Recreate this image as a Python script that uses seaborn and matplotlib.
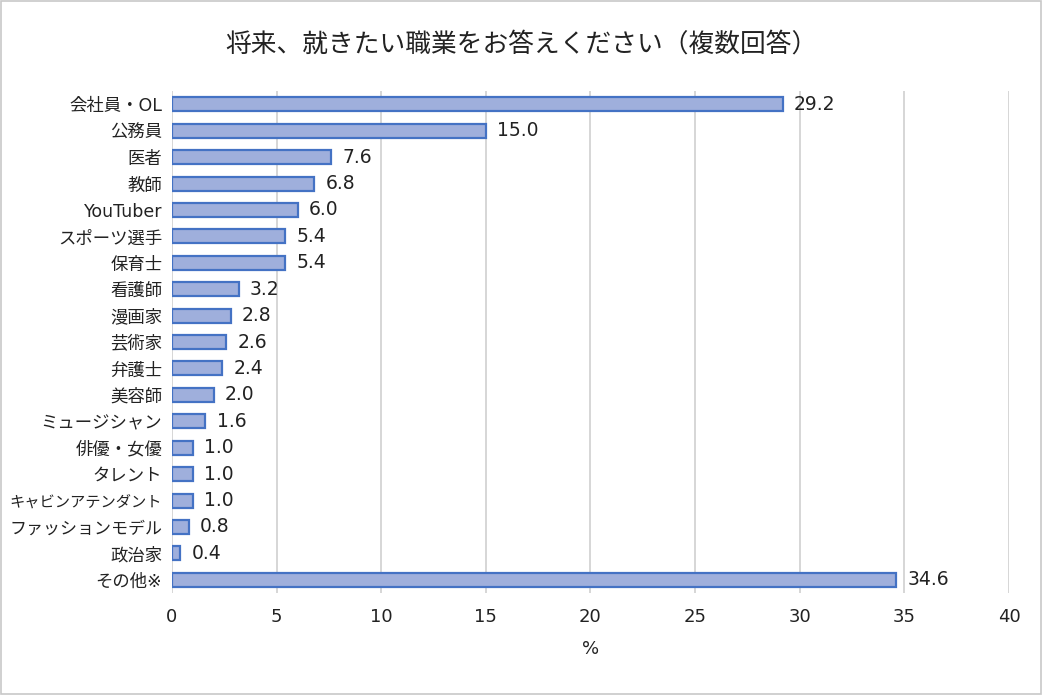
import matplotlib.pyplot as plt
import pandas as pd
import seaborn as sns
from matplotlib.patches import Rectangle

# Chart data
jobs = [
    "会社員・OL", "公務員", "医者", "教師", "YouTuber", "スポーツ選手", "保育士",
    "看護師", "漫画家", "芸術家", "弁護士", "美容師", "ミュージシャン",
    "俳優・女優", "タレント", "キャビンアテンダント", "ファッションモデル", "政治家", "その他※",
]
percent = [29.2, 15.0, 7.6, 6.8, 6.0, 5.4, 5.4, 3.2, 2.8, 2.6, 2.4, 2.0, 1.6,
           1.0, 1.0, 1.0, 0.8, 0.4, 34.6]
x_ticks = [0, 5, 10, 15, 20, 25, 30, 35, 40]
title = "将来、就きたい職業をお答えください（複数回答）"

sns.set_theme(style="white")
plt.rcParams["font.family"] = ["DejaVu Sans", "Noto Sans CJK JP"]
txt = "#222222"

df = pd.DataFrame({"job": jobs, "pct": percent})

fig = plt.figure(figsize=(10.43, 6.95), dpi=100)
ax = fig.add_axes([0.1649, 0.1468, 0.8025, 0.7222])

sns.barplot(data=df, x="pct", y="job", orient="h", color="#9FAFDC",
            edgecolor="#4472C4", linewidth=1.6, width=0.53, saturation=1, ax=ax)

ax.bar_label(ax.containers[0], labels=[f"{v:.1f}" for v in percent],
             padding=8, fontsize=13.5, color=txt)

ax.set_xlim(0, 40)
ax.set_xticks(x_ticks)
ax.set_ylim(len(jobs) - 0.5, -0.5)
ax.grid(axis="x", color="#D0D0D0", linewidth=1.2)
ax.set_axisbelow(True)
for s in ax.spines.values():
    s.set_visible(False)
ax.tick_params(axis="x", length=0, pad=11, labelsize=13, labelcolor=txt)
ax.tick_params(axis="y", length=0, pad=7, labelsize=12.5, labelcolor=txt)
# the long katakana names would run off the left edge, shrink them to fit
for lab in ax.get_yticklabels():
    lab.set_fontsize(min(12.5, 110 / len(lab.get_text())))
ax.set_xlabel("%", fontsize=13, color=txt, labelpad=10)
ax.set_ylabel("")

fig.text(0.5, 0.936, title, ha="center", va="center", fontsize=18.5, color=txt)

# light frame around the whole chart
fig.patches.append(Rectangle((0.001, 0.001), 0.997, 0.997, transform=fig.transFigure,
                             fill=False, edgecolor="#C8C8C8", linewidth=1.2))

fig.savefig("out.png", dpi=100)
